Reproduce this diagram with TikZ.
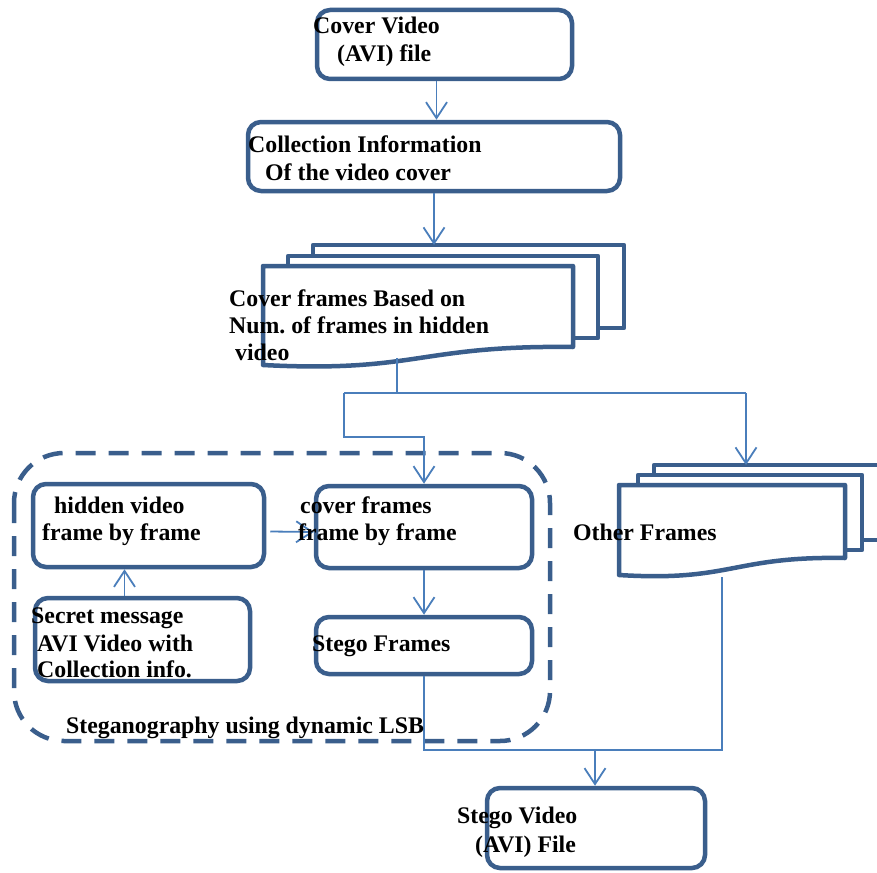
\documentclass[tikz,border=0pt]{standalone}
\usepackage{fontspec}
\setmainfont{Liberation Serif}
\usetikzlibrary{arrows.meta}
\definecolor{boxblue}{HTML}{3A5E8C}
\definecolor{lineblue}{HTML}{4A7EBB}
\begin{document}
\frenchspacing
\begin{tikzpicture}[x=1pt,y=-1pt,
  box/.style={draw=boxblue,line width=4.5pt,rounded corners=13pt,fill=white,inner sep=0pt},
  docshape/.style={draw=boxblue,line width=4.5pt,fill=white,line join=round},
  conn/.style={draw=lineblue,line width=1.8pt},
  arr/.style={conn,-{Straight Barb[length=16pt,width=21pt,line width=1.8pt]}},
  txt/.style={anchor=base west,inner sep=0pt,font=\bfseries\fontsize{23.8}{28}\selectfont},
  grp/.style={draw=boxblue,line width=4.5pt,rounded corners=50pt,dash pattern=on 20pt off 13pt}]
\useasboundingbox (0,0) rectangle (877,872);

% dashed group
\draw[grp] (14,453) rectangle (550,741);

% boxes
\node[box,minimum width=255pt,minimum height=69pt] (cv) at (444.5,44.5) {};
\node[box,minimum width=372pt,minimum height=69pt] (ci) at (434,156.5) {};
\node[box,minimum width=231pt,minimum height=83pt] (hv) at (148.5,525.5) {};
\node[box,minimum width=216pt,minimum height=82pt] (cf) at (424,527) {};
\node[box,minimum width=215pt,minimum height=83pt] (sm) at (142.5,639.5) {};
\node[box,minimum width=216pt,minimum height=57pt] (sf) at (424,645.5) {};
\node[box,minimum width=218pt,minimum height=80pt] (sv) at (596,828) {};

% cover frames document stack
\draw[docshape] (313,245) rectangle (624,328);
\draw[docshape] (288,256) rectangle (598,338);
\draw[docshape] (263,266) -- (573,266) -- (573,347)
  .. controls (418,345) and (418,373) .. (263,365) -- cycle;
\coordinate (dtop) at (434,245);
\coordinate (dbot) at (397,358);

% other frames document stack
\draw[docshape] (654,465) rectangle (890,540);
\draw[docshape] (638,475) rectangle (862,550);
\draw[docshape] (619,485) -- (845,485) -- (845,558)
  .. controls (732,556) and (732,582) .. (619,575) -- cycle;
\coordinate (otop) at (746,465);
\coordinate (obot) at (722,577);

% junction coordinates
\coordinate (split) at (397,393);
\coordinate (jl) at (344,393);
\coordinate (jr) at (746,393);
\coordinate (jl2) at (344,437);
\coordinate (jo) at (722,750);
\coordinate (merge) at (595,750);

% connectors
\draw[arr] ([xshift=-8pt]cv.south) -- ([xshift=-8pt]cv.south |- ci.north);
\draw[arr] (ci.south) -- (dtop);
\draw[conn] (dbot) -- (split);
\draw[conn] (jl) -- (jr);
\draw[arr] (jl) -- (jl2) -| (cf.north);
\draw[arr] (jr) -- (otop);
\draw[arr] ([xshift=4pt,yshift=-6pt]hv.east) -- ([yshift=-5pt]cf.west);
\draw[arr] ([xshift=-18pt]sm.north) -- ([xshift=-18pt]sm.north |- hv.south);
\draw[arr] (cf.south) -- (sf.north);
\draw[conn] (obot) -- (jo) -- (jo -| sf.south) -- (sf.south);
\draw[arr] (merge) -- (merge |- sv.north);

% texts
\node[txt] (t1) at (313,34) {Cover Video};
\node[txt] (t2) at (337,62) {(AVI) file};
\node[txt] (t3) at (248,152) {Collection Information};
\node[txt] (t4) at (265,180) {Of the video cover};
\node[txt] (t5) at (229,306) {Cover frames Based on};
\node[txt] (t6) at (229,333) {Num. of frames in hidden};
\node[txt] (t7) at (235,360) {video};
\node[txt] (t8) at (573,540) {Other Frames};
\node[txt] (t9) at (54,513) {hidden video};
\node[txt] (t10) at (42,540) {frame by frame};
\node[txt] (t11) at (300,513) {cover frames};
\node[txt] (t12) at (298,540) {frame by frame};
\node[txt] (t13) at (31,623) {Secret message};
\node[txt] (t14) at (37,651) {AVI Video with};
\node[txt] (t15) at (37,677) {Collection info.};
\node[txt] (t16) at (312,651) {Stego Frames};
\node[txt] (t17) at (66,733) {Steganography using dynamic LSB};
\node[txt] (t18) at (457,823) {Stego Video};
\node[txt] (t19) at (475,852) {(AVI) File};
\end{tikzpicture}
\end{document}
